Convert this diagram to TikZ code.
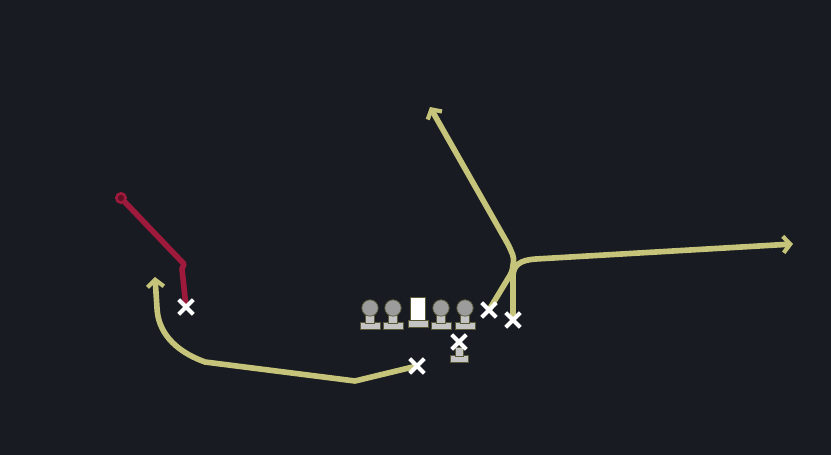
\documentclass[tikz,border=0pt]{standalone}
\usetikzlibrary{arrows.meta,shapes.misc}
\definecolor{field}{HTML}{181B21}
\definecolor{route}{HTML}{C6C47A}
\definecolor{block}{HTML}{9E1A3C}
\definecolor{helmet}{HTML}{9C9C9C}
\definecolor{stand}{HTML}{C4C4C4}
\pgfdeclarelayer{grass}
\pgfdeclarelayer{paths}
\pgfsetlayers{grass,paths,main}
\tikzset{
  xmark/.style={cross out,draw=white,line width=3.4pt,minimum size=9pt,inner sep=0pt},
  run/.style={draw=route,line width=4.8pt,line cap=round,line join=round},
  runarrow/.style={run,-{Straight Barb[length=6pt,width=14pt,line width=3.6pt]}},
  blockrun/.style={draw=block,line width=4.8pt,line cap=round,line join=round},
  halo/.style={draw=route!45!black,line width=0.6pt}
}
\begin{document}
\begin{tikzpicture}[x=0.03cm,y=-0.03cm]
  \begin{pgfonlayer}{grass}
    \fill[field] (0,0) rectangle (831,455);
  \end{pgfonlayer}
  \useasboundingbox (0,0) rectangle (831,455);

  % linemen
  \foreach \x/\n in {370/lt,393/lg,441/rg,465/rt}
  {
    \filldraw[halo,fill=stand] (\x-10,322) rectangle (\x+10,329);
    \filldraw[halo,fill=stand] (\x-4.5,311) rectangle (\x+4.5,323);
    \node[circle,halo,fill=helmet,minimum size=14pt,inner sep=0pt] (\n) at (\x,308) {};
  }
  % center
  \filldraw[halo,fill=stand] (408,320) rectangle (428,327);
  \node[rectangle,halo,fill=white,minimum width=13pt,minimum height=20pt,inner sep=0pt] (c) at (418,309) {};
  % quarterback
  \filldraw[halo,fill=stand] (450,355) rectangle (468,362);
  \filldraw[halo,fill=stand] (455,347) rectangle (463,356);
  \node[xmark] (qb) at (459,342) {};

  % skill players
  \node[xmark] (wr) at (186,307) {};
  \node[xmark] (rb) at (417,366) {};
  \node[xmark] (sl) at (489,310) {};
  \node[xmark] (te) at (513,320) {};
  \node[circle,draw=block,fill=block!60!black,line width=2.2pt,minimum size=8pt,inner sep=0pt] (wrend) at (121,198) {};
  \coordinate (rbend) at (155,277);
  \coordinate (slend) at (430,107);
  \coordinate (teend) at (793,244);

  \begin{pgfonlayer}{paths}
    % block then release
    \draw[blockrun] (wr.center) -- (182,269) -- (184,264) -- (wrend);
    % running back swing
    \draw[runarrow] (rb.center) -- (355,381) -- (205,362)
         .. controls (172,350) and (158,330) .. (157,308) -- (rbend);
    % slot post
    \draw[runarrow,rounded corners=3pt] (sl.center) -- (512,272) -- (514,258)
         -- (509,246) -- (slend);
    % tight end out
    \draw[runarrow] (te.center) -- (513,277)
         .. controls (513,265) and (520,260) .. (536,259) -- (teend);
  \end{pgfonlayer}
\end{tikzpicture}
\end{document}
